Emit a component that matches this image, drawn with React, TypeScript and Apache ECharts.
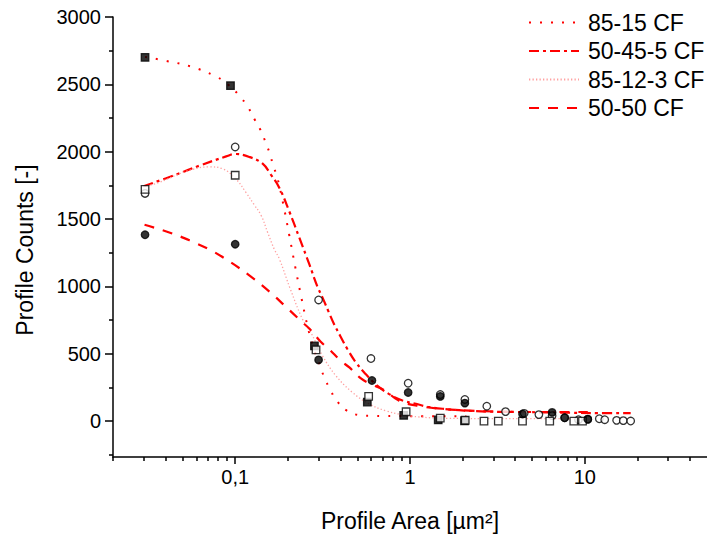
import React, { useEffect, useRef } from 'react';
import * as echarts from 'echarts';

// ---------- axis ticks ----------
const xMajorTicks = [0.1, 1, 10];
const xMinorTicks = [0.02, 0.03, 0.04, 0.05, 0.06, 0.07, 0.08, 0.09, 0.2, 0.3, 0.4, 0.5, 0.6, 0.7, 0.8, 0.9, 2, 3, 4, 5, 6, 7, 8, 9, 20, 30, 40];
const yMajorTicks = [0, 500, 1000, 1500, 2000, 2500, 3000];
const yMinorTicks = [-250, 250, 750, 1250, 1750, 2250, 2750];

// ---------- measured points ----------
// 85-15 CF : filled squares
const pts8515: [number, number][] = [
  [0.0305, 2700], [0.094, 2490], [0.284, 558], [0.57, 141], [0.92, 42], [1.45, 8], [2.05, 2],
];
// 50-45-5 CF : open circles
const pts50455: [number, number][] = [
  [0.0305, 1690], [0.1, 2035], [0.3, 899], [0.598, 464], [0.976, 281], [1.49, 197], [2.06, 160],
  [2.75, 110], [3.52, 70], [4.5, 57], [5.46, 48], [6.5, 40], [7.67, 24], [9.2, 10], [10.4, 12],
  [12.1, 17], [13.0, 10], [15.2, 5], [16.6, 3], [18.3, 0],
];
// 85-12-3 CF : open squares
const pts85123: [number, number][] = [
  [0.0305, 1720], [0.1, 1825], [0.29, 528], [0.58, 183], [0.95, 69], [1.49, 22], [2.07, 6],
  [2.65, 0], [3.2, 0], [4.4, 0], [6.3, 0], [8.65, 0], [9.7, 0],
];
// 50-50 CF : filled circles
const pts5050: [number, number][] = [
  [0.0305, 1383], [0.1, 1313], [0.3, 454], [0.606, 301], [0.976, 212], [1.49, 183], [2.06, 133],
  [4.4, 52], [6.5, 64], [7.67, 24], [10.4, 14],
];

// ---------- fitted curves ----------
const fit8515: [number, number][] = [
  [0.0305, 2704], [0.041, 2672], [0.056, 2632], [0.077, 2561], [0.0906, 2501], [0.105, 2420],
  [0.118, 2333], [0.1285, 2244], [0.14, 2158], [0.149, 2072], [0.158, 1983], [0.165, 1896],
  [0.174, 1810], [0.1886, 1607], [0.204, 1378], [0.2208, 1141], [0.2389, 919], [0.2586, 711],
  [0.2798, 548], [0.3068, 407], [0.3233, 324], [0.3485, 237], [0.3822, 148], [0.4394, 74],
  [0.5124, 44], [0.598, 39], [0.703, 37], [0.82, 37], [1.2, 36], [2.1, 36],
];
const fit50455: [number, number][] = [
  [0.0299, 1743], [0.0459, 1830], [0.0624, 1896], [0.0888, 1965], [0.1, 1983], [0.1205, 1961],
  [0.1436, 1911], [0.16, 1830], [0.179, 1731], [0.204, 1556], [0.2325, 1363], [0.2657, 1163],
  [0.295, 1000], [0.316, 916], [0.342, 812], [0.368, 719], [0.399, 632], [0.439, 533],
  [0.486, 442], [0.547, 361], [0.644, 267], [0.76, 200], [0.906, 152], [1.08, 128], [1.26, 106],
  [1.6, 89], [2.04, 78], [2.83, 70], [4.2, 67], [7.1, 63], [12.1, 59], [18.3, 59],
];
const fit85123: [number, number][] = [
  [0.0299, 1741], [0.0361, 1768], [0.0525, 1854], [0.0712, 1887], [0.0851, 1872], [0.1016, 1793],
  [0.1156, 1694], [0.1283, 1607], [0.1408, 1526], [0.1536, 1398], [0.1676, 1274], [0.1788, 1205],
  [0.207, 978], [0.243, 755], [0.271, 657], [0.316, 484], [0.377, 336], [0.469, 212],
  [0.585, 126], [0.728, 76], [0.906, 47], [1.13, 30], [1.67, 20], [3.23, 18], [9.7, 18],
];
const fit5050: [number, number][] = [
  [0.0303, 1457], [0.0436, 1393], [0.056, 1336], [0.0728, 1267], [0.0939, 1180], [0.122, 1076],
  [0.158, 958], [0.1936, 852], [0.2411, 736], [0.268, 681], [0.3095, 587], [0.345, 533],
  [0.4022, 447], [0.45, 398], [0.524, 316], [0.598, 274], [0.712, 230], [0.867, 150],
  [1.13, 111], [1.57, 89], [2.18, 78], [3.23, 70], [5.47, 67], [10.4, 67],
];

const seriesNames = ['85-15 CF', '50-45-5 CF', '85-12-3 CF', '50-50 CF'];

const FONT = "'Liberation Sans', Arial, sans-serif";

export default function App() {
  const ref = useRef<HTMLDivElement>(null);

  useEffect(() => {
    if (!ref.current) return;
    const chart = echarts.init(ref.current, null, { renderer: 'svg' });

    const axisLine = { show: true, onZero: false, lineStyle: { color: '#000', width: 1.5 } };

    const lineSeries = (name: string, data: [number, number][], color: string, width: number, type: any) => ({
      name,
      type: 'line',
      data,
      smooth: 0.4,
      symbol: 'none',
      showSymbol: false,
      xAxisIndex: 0,
      yAxisIndex: 0,
      lineStyle: { color, width, type },
      itemStyle: { color },
      z: 2,
    });

    const scatter = (name: string, data: [number, number][], symbol: string, filled: boolean, size: number) => ({
      name,
      type: 'scatter',
      data,
      symbol,
      symbolSize: size,
      xAxisIndex: 0,
      yAxisIndex: 0,
      itemStyle: {
        color: filled ? '#000' : '#fff',
        borderColor: '#000',
        borderWidth: 1.3,
      },
      z: 3,
    });

    chart.setOption({
      animation: false,
      backgroundColor: '#fff',
      textStyle: { fontFamily: FONT },
      grid: { left: 113, top: 17, right: -1, bottom: 79, containLabel: false },
      legend: {
        data: seriesNames,
        orient: 'vertical',
        left: 528,
        top: 11,
        padding: 0,
        itemWidth: 50,
        itemHeight: 14,
        itemGap: 5.5,
        itemStyle: { opacity: 0 },
        textStyle: { fontSize: 23, lineHeight: 23, color: '#000', fontFamily: FONT, padding: [0, 0, 0, 4] },
      },
      xAxis: [
        {
          type: 'log',
          logBase: 10,
          min: 0.02,
          max: 50,
          position: 'bottom',
          name: 'Profile Area [µm²]',
          nameLocation: 'middle',
          nameGap: 52,
          nameTextStyle: { fontSize: 23, color: '#000', fontFamily: FONT },
          axisLine,
          axisTick: { show: true, inside: false, length: 7, lineStyle: { color: '#000', width: 1.5 }, customValues: xMajorTicks },
          axisLabel: {
            show: true,
            margin: 10,
            fontSize: 20,
            color: '#000',
            fontFamily: FONT,
            customValues: xMajorTicks,
            formatter: (v: number) => String(v).replace('.', ','),
          },
          splitLine: { show: false },
          minorTick: { show: false },
        },
        {
          type: 'log',
          logBase: 10,
          min: 0.02,
          max: 50,
          position: 'bottom',
          axisLine: { show: false, onZero: false },
          axisTick: { show: true, inside: false, length: 4, lineStyle: { color: '#000', width: 1.5 }, customValues: xMinorTicks },
          axisLabel: { show: false },
          splitLine: { show: false },
        },
      ],
      yAxis: [
        {
          type: 'value',
          min: -267,
          max: 3000,
          position: 'left',
          name: 'Profile Counts [-]',
          nameLocation: 'middle',
          nameGap: 77,
          nameTextStyle: { fontSize: 23, color: '#000', fontFamily: FONT, padding: [0, 26, 0, 0] },
          axisLine,
          axisTick: { show: true, inside: false, length: 8, lineStyle: { color: '#000', width: 1.5 }, customValues: yMajorTicks },
          axisLabel: {
            show: true,
            margin: 12,
            fontSize: 20,
            color: '#000',
            fontFamily: FONT,
            customValues: yMajorTicks,
            formatter: (v: number) => String(v),
          },
          splitLine: { show: false },
        },
        {
          type: 'value',
          min: -267,
          max: 3000,
          position: 'left',
          axisLine: { show: false, onZero: false },
          axisTick: { show: true, inside: false, length: 4, lineStyle: { color: '#000', width: 1.5 }, customValues: yMinorTicks },
          axisLabel: { show: false },
          splitLine: { show: false },
        },
      ],
      series: [
        lineSeries('85-15 CF', fit8515, '#ff0000', 2, [2, 9]),
        lineSeries('50-45-5 CF', fit50455, '#ff0000', 2.2, [10, 4, 3, 4]),
        lineSeries('85-12-3 CF', fit85123, '#ffa0a0', 1.3, [1.3, 2.2]),
        lineSeries('50-50 CF', fit5050, '#ff0000', 2.2, [10, 9]),
        scatter('85-15 CF data', pts8515, 'rect', true, 7.5),
        scatter('50-45-5 CF data', pts50455, 'circle', false, 7.5),
        scatter('85-12-3 CF data', pts85123, 'rect', false, 7.5),
        scatter('50-50 CF data', pts5050, 'circle', true, 7.5),
      ],
    });

    return () => chart.dispose();
  }, []);

  return (
    <div
      ref={ref}
      style={{ position: 'fixed', left: 0, top: 0, width: 707, height: 537, background: '#fff' }}
    />
  );
}
